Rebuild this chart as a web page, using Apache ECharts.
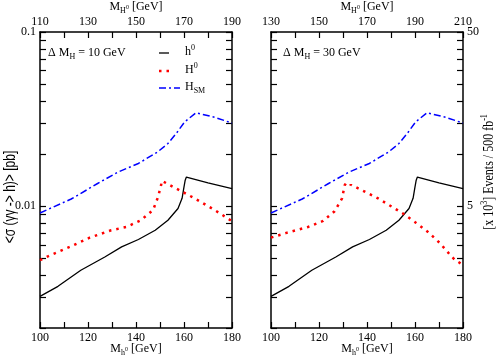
<!DOCTYPE html>
<html lang="en">
<head>
<meta charset="UTF-8">
<title>sigma(gamma gamma -> h) vs Mh</title>
<script src="https://cdn.jsdelivr.net/npm/echarts@6/dist/echarts.min.js"></script>
<style>
    html, body { margin: 0; padding: 0; background: #fff; }
    #chart { width: 499px; height: 359px; }
</style>
</head>
<body>
<div id="chart"></div>
<script>
// light higgs h0 - same in both panels
var hMass = [100, 107.5, 117, 127, 134, 141, 148, 153.3, 157.5, 159.2, 160, 160.5, 161, 170, 180];
var hXsec = [0.00304, 0.00347, 0.00429, 0.00511, 0.00584, 0.00644, 0.00728, 0.00831, 0.0097, 0.0111, 0.0129, 0.0141, 0.0147, 0.0136, 0.0126];

// standard model higgs
var smMass = [100, 113, 124, 132.5, 141, 149, 153.3, 156.8, 160.3, 165, 172.8, 180];
var smXsec = [0.00915, 0.0110, 0.0135, 0.0157, 0.0176, 0.0205, 0.0229, 0.0262, 0.0305, 0.0344, 0.0324, 0.0300];

// heavy higgs H0, delta M = 10 GeV
var H10Mass = [100, 103.3, 112.4, 120.7, 129.7, 136, 142, 147.1, 149.2, 150.5, 150.8, 153.3, 164.4, 172.8, 178.3, 180];
var H10Xsec = [0.0049, 0.00516, 0.00584, 0.0066, 0.00728, 0.0076, 0.00831, 0.0095, 0.0113, 0.0133, 0.0140, 0.0134, 0.0111, 0.0095, 0.0085, 0.0082];

// heavy higgs H0, delta M = 30 GeV
var H30Mass = [100, 106.4, 115.4, 121.7, 126.5, 129.6, 130.7, 131.5, 132.8, 144.6, 155, 160.5, 165.4, 170.3, 174.4, 176.5, 180];
var H30Xsec = [0.0066, 0.00703, 0.0076, 0.00823, 0.00936, 0.0111, 0.0132, 0.0137, 0.0134, 0.0111, 0.00908, 0.00802, 0.00712, 0.00616, 0.0053, 0.00494, 0.0046];

// axis ticks
var yTicks = [0.002, 0.003, 0.004, 0.005, 0.006, 0.007, 0.008, 0.009, 0.01, 0.02, 0.03, 0.04, 0.05, 0.06, 0.07, 0.08, 0.09, 0.1];
var yLabels = [0.01, 0.1];
var evLabels = [5, 50];
var lumiFactor = 500; // pb -> [x10^3] events / 500 fb^-1

var FONT = '"Liberation Serif", "DejaVu Serif", serif';
var SANS = '"Liberation Sans", "DejaVu Sans", sans-serif';

function pairs(xs, ys) {
    return xs.map(function (x, i) { return [x, ys[i]]; });
}

function xAxisDef(grid, pos, min, max) {
    return {
        type: 'value', gridIndex: grid, position: pos, min: min, max: max, interval: 10,
        axisLine: { onZero: false, lineStyle: { color: '#000', width: 1.5 } },
        axisTick: { inside: true, length: 6, lineStyle: { color: '#000', width: 1.2 } },
        axisLabel: {
            margin: 4, color: '#000', fontFamily: FONT, fontSize: 12,
            formatter: function (v) { return (v - min) % 20 === 0 ? v : ''; }
        },
        splitLine: { show: false }
    };
}

function yAxisDef(grid, pos, factor, labels) {
    return {
        type: 'log', logBase: 10, gridIndex: grid, position: pos,
        min: 0.002 * factor, max: 0.1 * factor,
        axisLine: { onZero: false, lineStyle: { color: '#000', width: 1.5 } },
        axisTick: {
            inside: true, length: 6, lineStyle: { color: '#000', width: 1.2 },
            customValues: yTicks.map(function (v) { return +(v * factor).toPrecision(6); })
        },
        axisLabel: {
            show: labels != null, margin: 4, color: '#000', fontFamily: FONT, fontSize: 12,
            customValues: labels || []
        },
        splitLine: { show: false }
    };
}

function lineSeries(name, xi, yi, data, style) {
    return {
        name: name, type: 'line', xAxisIndex: xi, yAxisIndex: yi,
        data: data, showSymbol: false, symbol: 'none', silent: true,
        lineStyle: style
    };
}

var solid = { color: '#000', width: 1.3 };
var dotted = { color: '#ff0000', width: 2.5, type: [2.5, 5] };
var dashDot = { color: '#0000ff', width: 1.5, type: [7, 3, 2, 3] };

function richSet(family, size) {
    var small = Math.round(size * 0.66);
    return {
        n: { fontFamily: family, fontSize: size, lineHeight: size + 4, verticalAlign: 'middle', fill: '#000' },
        sub: { fontFamily: family, fontSize: small, lineHeight: size + 4, verticalAlign: 'bottom', fill: '#000' },
        sup: { fontFamily: family, fontSize: small, lineHeight: size + 4, verticalAlign: 'top', fill: '#000' },
        tiny: { fontFamily: family, fontSize: Math.round(size / 2), lineHeight: size + 4, verticalAlign: 'middle', fill: '#000' }
    };
}

// stretch: the vertical titles are drawn longer than the rest of the text
function label(x, y, text, align, rot, family, stretch) {
    family = family || FONT;
    return {
        type: 'text', x: x, y: y, rotation: rot || 0, scaleY: stretch || 1,
        style: {
            text: text, rich: richSet(family, 12), font: '12px ' + family, fill: '#000',
            align: align || 'center', verticalAlign: 'middle'
        }
    };
}

function legendLine(y, x2, style) {
    return {
        type: 'line', shape: { x1: 159, y1: y, x2: x2, y2: y },
        style: { stroke: style.color, lineWidth: style.width, lineDash: style.type || null }
    };
}

var chart = echarts.init(document.getElementById('chart'));

chart.setOption({
    animation: false,
    backgroundColor: '#fff',
    grid: [
        { left: 40, top: 32, width: 192, height: 296 },
        { left: 271, top: 32, width: 192, height: 296 }
    ],
    xAxis: [
        xAxisDef(0, 'bottom', 100, 180),
        xAxisDef(0, 'top', 110, 190),
        xAxisDef(1, 'bottom', 100, 180),
        xAxisDef(1, 'top', 130, 210)
    ],
    yAxis: [
        yAxisDef(0, 'left', 1, yLabels),
        yAxisDef(0, 'right', 1, null),
        yAxisDef(1, 'left', 1, null),
        yAxisDef(1, 'right', lumiFactor, evLabels)
    ],
    series: [
        lineSeries('h0', 0, 0, pairs(hMass, hXsec), solid),
        lineSeries('H0', 0, 0, pairs(H10Mass, H10Xsec), dotted),
        lineSeries('HSM', 0, 0, pairs(smMass, smXsec), dashDot),
        lineSeries('h0', 2, 2, pairs(hMass, hXsec), solid),
        lineSeries('H0', 2, 2, pairs(H30Mass, H30Xsec), dotted),
        lineSeries('HSM', 2, 2, pairs(smMass, smXsec), dashDot)
    ],
    graphic: [
        // axis titles
        label(136, 349, '{n|M}{sub|h}{tiny|0}{n| [GeV]}'),
        label(367, 349, '{n|M}{sub|h}{tiny|0}{n| [GeV]}'),
        label(136, 7, '{n|M}{sub|H}{tiny|0}{n| [GeV]}'),
        label(367, 7, '{n|M}{sub|H}{tiny|0}{n| [GeV]}'),
        label(11, 197, '{n|<σ (γγ -> h)> [pb]}', 'center', Math.PI / 2, SANS, 1.3),
        label(489, 172, '{n|[x 10}{sup|3}{n|] Events / 500 fb}{sup|-1}', 'center', Math.PI / 2, FONT, 1.27),
        // panel annotations
        label(48, 53, '{n|Δ M}{sub|H}{n| = 10 GeV}', 'left'),
        label(283, 53, '{n|Δ M}{sub|H}{n| = 30 GeV}', 'left'),
        // legend
        legendLine(53, 169, solid),
        legendLine(71, 171, dotted),
        legendLine(88, 180, dashDot),
        label(185, 52, '{n|h}{sup|0}', 'left'),
        label(185, 70, '{n|H}{sup|0}', 'left'),
        label(185, 87, '{n|H}{sub|SM}', 'left')
    ]
});
</script>
</body>
</html>
